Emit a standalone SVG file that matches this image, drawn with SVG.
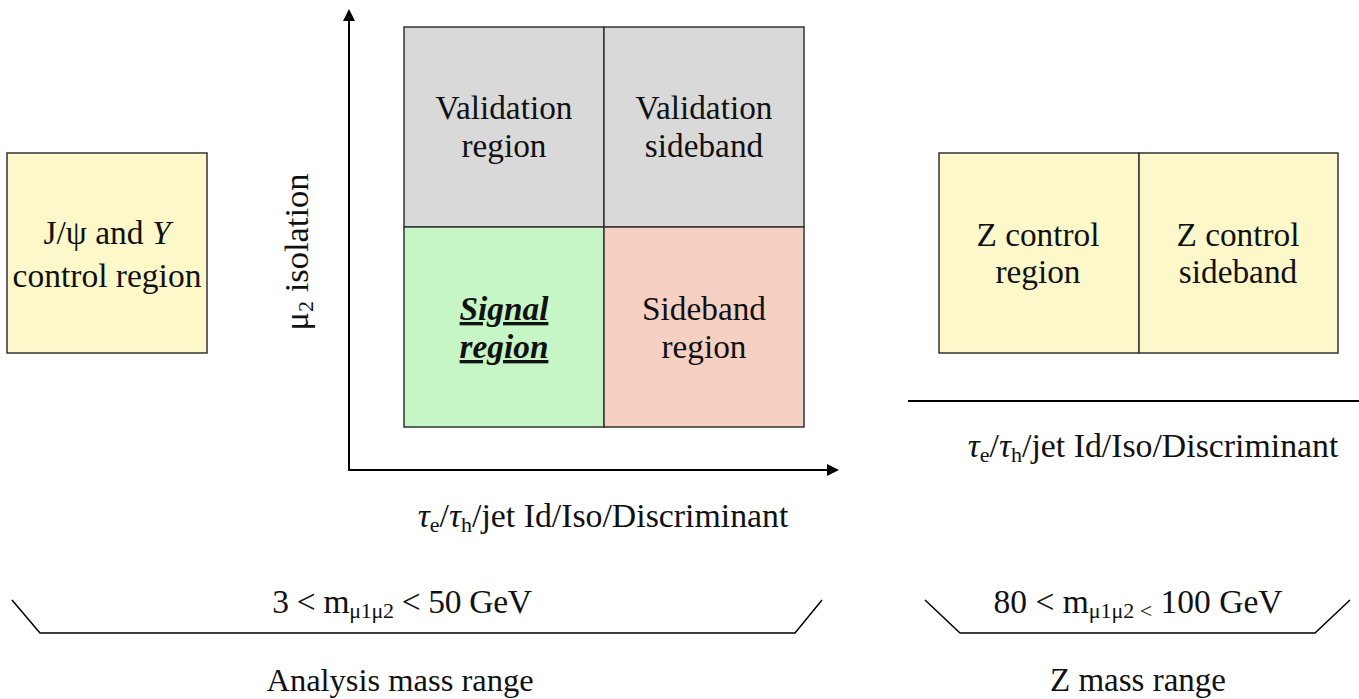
<svg xmlns="http://www.w3.org/2000/svg" width="1359" height="699" viewBox="0 0 1359 699">
<defs>
<marker id="ah" markerWidth="12" markerHeight="12" refX="9" refY="6" orient="auto" markerUnits="userSpaceOnUse">
<path d="M0,0 L12,6 L0,12 Z" fill="#000"/>
</marker>
<style>
text{font-family:"Liberation Serif","Times New Roman",serif;fill:#111;}
.t{font-size:33.3px;text-anchor:middle;}
.box{stroke:#333;stroke-width:1.5;}
.yel{fill:#fcf8c9;}
.ax{stroke:#000;stroke-width:2;fill:none;}
.br{stroke:#000;stroke-width:1.5;fill:none;}
.sub{font-size:22px;}
</style>
</defs>
<rect width="1359" height="699" fill="#fff"/>

<g id="jpsi-control">
<rect class="box yel" x="7" y="153" width="200" height="200"/>
<text class="t" x="107" y="244" style="font-size:33.5px">J/ψ and <tspan font-style="italic">Υ</tspan></text>
<text class="t" x="107" y="287" style="font-size:33.5px">control region</text>
</g>

<g id="validation-region">
<rect class="box" x="404" y="27" width="200" height="200" fill="#d9d9d9"/>
<text class="t" x="504" y="119">Validation</text>
<text class="t" x="504" y="157">region</text>
</g>
<g id="validation-sideband">
<rect class="box" x="604" y="27" width="200" height="200" fill="#d9d9d9"/>
<text class="t" x="704" y="119">Validation</text>
<text class="t" x="704" y="157">sideband</text>
</g>
<g id="signal-region">
<rect class="box" x="404" y="227" width="200" height="200" fill="#c6f6c6"/>
<text class="t" x="504" y="320" font-weight="bold" font-style="italic" text-decoration="underline">Signal</text>
<text class="t" x="504" y="358" font-weight="bold" font-style="italic" text-decoration="underline">region</text>
</g>
<g id="sideband-region">
<rect class="box" x="604" y="227" width="200" height="200" fill="#f6d0c2"/>
<text class="t" x="704" y="320">Sideband</text>
<text class="t" x="704" y="358">region</text>
</g>

<g id="z-control-region">
<rect class="box yel" x="939" y="153" width="200" height="200"/>
<text class="t" x="1038" y="246">Z control</text>
<text class="t" x="1038" y="283">region</text>
</g>
<g id="z-control-sideband">
<rect class="box yel" x="1139" y="153" width="199" height="200"/>
<text class="t" x="1238" y="246">Z control</text>
<text class="t" x="1238" y="283">sideband</text>
</g>

<g id="connectors">
<path class="ax" d="M349,470 L349,12" marker-end="url(#ah)"/>
<path class="ax" d="M348,470 L836,470" marker-end="url(#ah)"/>
<path class="ax" d="M908,401 L1360,401"/>
<path class="br" d="M12,600 L40,633 L795,633 L822,600"/>
<path class="br" d="M925,600 L960,633 L1315,633 L1350,600"/>
</g>

<g id="labels">
<text class="t" transform="translate(308,252) rotate(-90)" style="font-size:34.5px">μ<tspan class="sub" dy="5">2</tspan><tspan dy="-5"> isolation</tspan></text>
<text class="t" x="603" y="527" style="font-size:33.8px"><tspan font-style="italic">τ</tspan><tspan class="sub" dy="5">e</tspan><tspan dy="-5">/</tspan><tspan font-style="italic">τ</tspan><tspan class="sub" dy="5">h</tspan><tspan dy="-5">/jet Id/Iso/Discriminant</tspan></text>
<text class="t" x="1153" y="457" style="font-size:33.8px"><tspan font-style="italic">τ</tspan><tspan class="sub" dy="5">e</tspan><tspan dy="-5">/</tspan><tspan font-style="italic">τ</tspan><tspan class="sub" dy="5">h</tspan><tspan dy="-5">/jet Id/Iso/Discriminant</tspan></text>
<text class="t" x="402" y="613" style="font-size:33.5px;letter-spacing:-0.3px">3 &lt; m<tspan class="sub" dy="5">μ1μ2</tspan><tspan dy="-5"> &lt; 50 GeV</tspan></text>
<text class="t" x="400" y="691" style="font-size:32.5px">Analysis mass range</text>
<text class="t" x="1138" y="613" style="font-size:33.5px">80 &lt; m<tspan class="sub" dy="5">μ1μ2 &lt;</tspan><tspan dy="-5"> 100 GeV</tspan></text>
<text class="t" x="1138" y="691" style="font-size:33px">Z mass range</text>
</g>
</svg>
